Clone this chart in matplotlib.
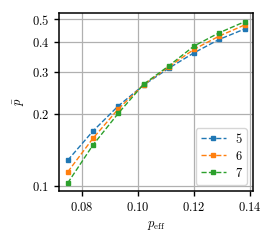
import matplotlib
matplotlib.use('Agg')
import matplotlib.pyplot as plt
from matplotlib.ticker import FixedLocator, FixedFormatter, NullLocator

plt.rcParams['mathtext.fontset'] = 'cm'
plt.rcParams['font.family'] = 'serif'
plt.rcParams['font.serif'] = ['cmr10', 'DejaVu Serif']
plt.rcParams['axes.unicode_minus'] = False

p_eff = [0.075, 0.084, 0.093, 0.102, 0.111, 0.120, 0.129, 0.138]
series = {
    '5': [0.1285, 0.1703, 0.2168, 0.265, 0.312, 0.362, 0.412, 0.455],
    '6': [0.1148, 0.1588, 0.2106, 0.266, 0.316, 0.3743, 0.4254, 0.473],
    '7': [0.1032, 0.1489, 0.2020, 0.267, 0.319, 0.3864, 0.4392, 0.488],
}
colors = ['#1f77b4', '#ff7f0e', '#2ca02c']
xticks = [0.08, 0.10, 0.12, 0.14]
xticklabels = ['0.08', '0.10', '0.12', '0.14']
yticks = [0.1, 0.2, 0.3, 0.4, 0.5]
yticklabels = ['0.1', '0.2', '0.3', '0.4', '0.5']

fig = plt.figure(figsize=(2.74, 2.44), dpi=100)
ax = fig.add_axes([0.2153, 0.2172, 0.7081, 0.7295])

for (name, vals), c in zip(series.items(), colors):
    ax.plot(p_eff, vals, color=c, linestyle='--', linewidth=1.0,
            marker='s', markersize=2.3, label=name)

ax.set_yscale('log')
ax.set_xlim(0.0719, 0.141)
ax.set_ylim(0.0956, 0.531)
ax.xaxis.set_major_locator(FixedLocator(xticks))
ax.xaxis.set_major_formatter(FixedFormatter(['$%s$' % t for t in xticklabels]))
ax.yaxis.set_major_locator(FixedLocator(yticks))
ax.yaxis.set_major_formatter(FixedFormatter(['$%s$' % t for t in yticklabels]))
ax.yaxis.set_minor_locator(NullLocator())
ax.tick_params(labelsize=9, direction='out', length=3.5, width=1.0)

ax.grid(True, color='#b0b0b0', linewidth=0.9)
for s in ax.spines.values():
    s.set_linewidth(1.1)

ax.set_xlabel(r'$p_\mathrm{eff}$', fontsize=9)
ax.set_ylabel(r'$\bar{p}$', fontsize=9)

ax.legend(loc='lower right', handlelength=2.0, labelspacing=0.4,
          framealpha=0.8, edgecolor='#cccccc', fancybox=True,
          prop={'family': 'serif', 'size': 9})

fig.savefig('out.png', dpi=100)
